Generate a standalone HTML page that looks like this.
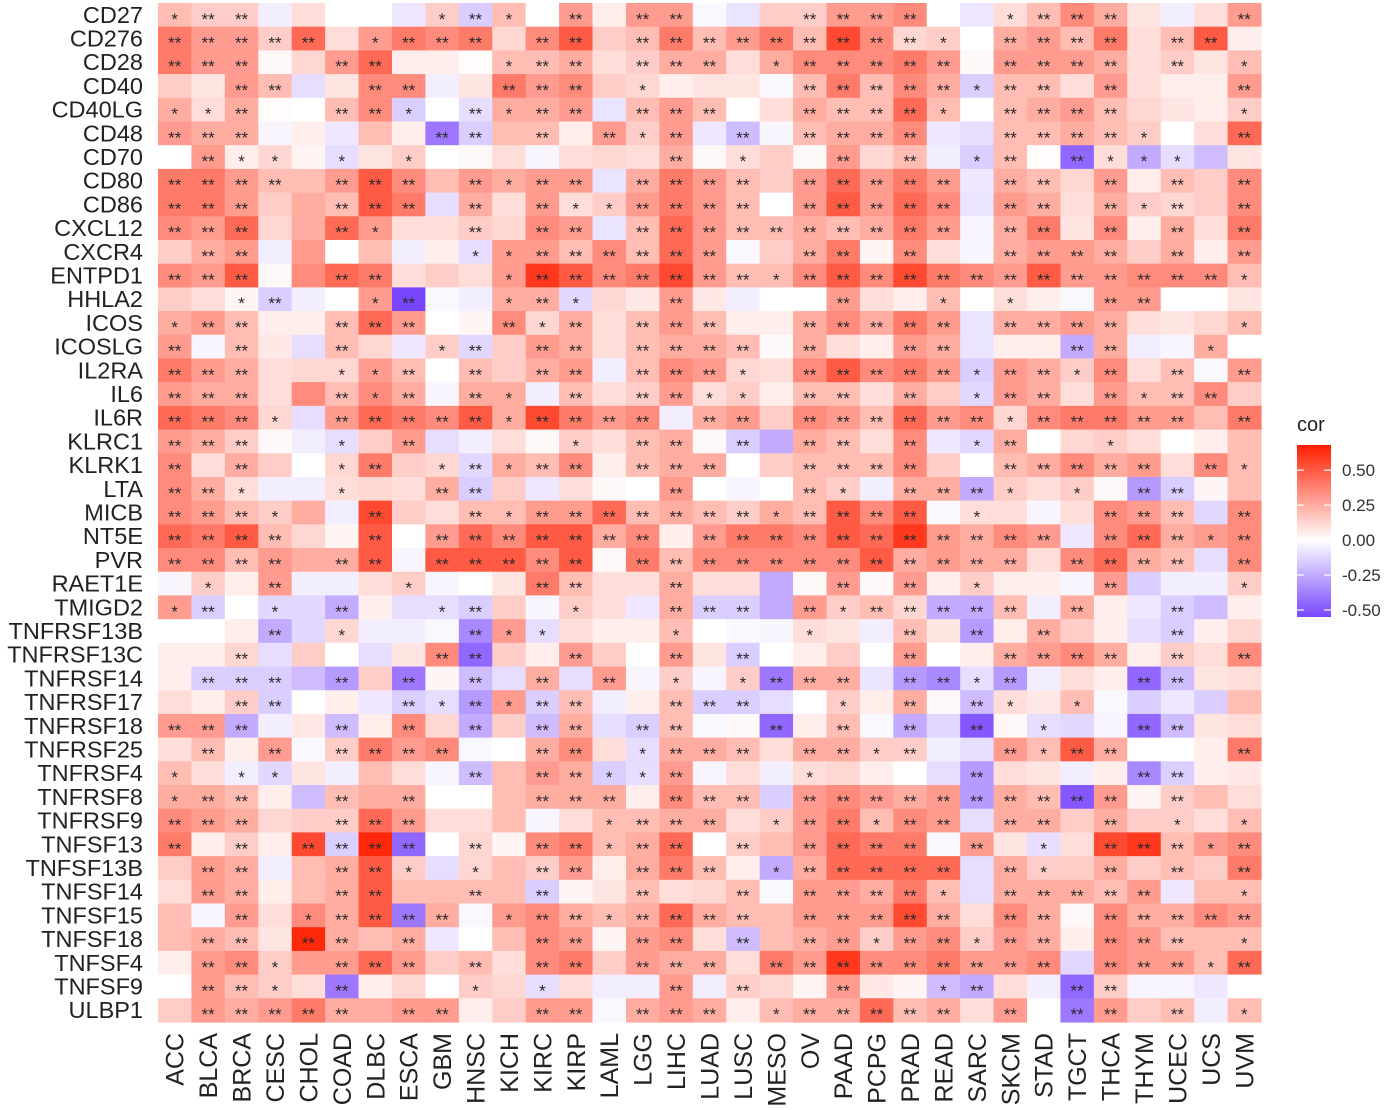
<!DOCTYPE html>
<html><head><meta charset="utf-8">
<style>
html,body{margin:0;padding:0;background:#fff;}
svg{display:block;font-family:"Liberation Sans",Arial,sans-serif;}
</style></head>
<body>
<svg id="chart" width="1393" height="1110" viewBox="0 0 1393 1110" xmlns="http://www.w3.org/2000/svg">
<g id="cells"></g>
<g id="stars"></g>
<g id="ylabels"></g>
<g id="xlabels"></g>
<g id="legend"></g>
</svg>
<script>
const genes=["CD27","CD276","CD28","CD40","CD40LG","CD48","CD70","CD80","CD86","CXCL12","CXCR4","ENTPD1","HHLA2","ICOS","ICOSLG","IL2RA","IL6","IL6R","KLRC1","KLRK1","LTA","MICB","NT5E","PVR","RAET1E","TMIGD2","TNFRSF13B","TNFRSF13C","TNFRSF14","TNFRSF17","TNFRSF18","TNFRSF25","TNFRSF4","TNFRSF8","TNFRSF9","TNFSF13","TNFSF13B","TNFSF14","TNFSF15","TNFSF18","TNFSF4","TNFSF9","ULBP1"];
const cancers=["ACC","BLCA","BRCA","CESC","CHOL","COAD","DLBC","ESCA","GBM","HNSC","KICH","KIRC","KIRP","LAML","LGG","LIHC","LUAD","LUSC","MESO","OV","PAAD","PCPG","PRAD","READ","SARC","SKCM","STAD","TGCT","THCA","THYM","UCEC","UCS","UVM"];
const legendTicks=[0.5,0.25,0,-0.25,-0.5];
const legendTickLabels=["0.50","0.25","0.00","-0.25","-0.50"];
const corValues=[
[.2,.15,.15,-.05,.1,0,0,-.07,.15,-.15,.2, 0,.3,.05,.3,.3,-.02,-.08,.15,.15,.3,.3, .35,0,-.07,.1,.2,.35,.25,.08,-.05,.1,.3],
[.4,.3,.3,.15,.45,.1,.3,.4,.35,.4,.12, .35,.5,.15,.2,.4,.2,.3,.4,.2,.55,.35, .12,.15,0,.25,.3,.2,.4,.1,.2,.5,.05],
[.4,.3,.3,.02,.12,.3,.45,.05,.05,.01,.2, .2,.25,.1,.15,.25,.25,.1,.25,.35,.35,.35, .4,.3,.02,.3,.3,.3,.25,.1,.15,.08,.2],
[.15,.08,.3,.2,-.1,.08,.35,.35,-.05,.08,.4, .3,.35,.15,.12,.05,.08,.08,-.02,.2,.4,.2, .35,.25,-.15,.2,.2,.1,.3,.1,.05,.05,.3],
[.25,.1,.25,.01,0,.2,.35,-.15,0,-.1,.25, .25,.3,-.08,.2,.3,.2,0,.1,.25,.2,.2, .45,.2,0,.2,.25,.3,.2,.12,.08,.05,.15],
[.3,.25,.25,-.03,.05,-.07,.2,.05,-.4,-.15,.2, .2,.05,.3,.15,.3,-.07,-.2,-.03,.2,.25,.25, .35,-.07,-.1,.2,.2,.25,.2,.15,0,.1,.45],
[0,.3,.05,.12,.03,-.1,.08,.15,0,.02,.1, -.03,.1,.12,.1,.25,.02,.1,.15,.02,.3,.12, .2,-.05,-.15,.2,.01,-.45,.1,-.25,-.1,-.2,.08],
[.4,.4,.3,.2,.2,.3,.5,.35,.2,.3,.25, .3,.3,-.08,.25,.4,.3,.2,.15,.3,.45,.3, .4,.3,-.07,.25,.2,.12,.3,.05,.2,.15,.35],
[.4,.4,.3,.15,.25,.2,.5,.4,-.1,.25,.1, .3,.1,.15,.3,.4,.3,.2,0,.3,.5,.3, .45,.35,-.08,.3,.25,.1,.25,.15,.12,.15,.35],
[.35,.3,.45,.12,.25,.45,.3,.1,.1,.15,.12, .35,.3,-.08,.2,.45,.3,.2,.2,.25,.2,.25, .4,.3,-.03,.25,.4,.08,.35,.05,.25,.1,.4],
[.15,.25,.3,-.05,.3,0,.2,-.05,.05,-.1,.3, .3,.2,.35,.2,.45,.3,-.02,.15,.25,.4,.03, .35,.1,-.03,.25,.3,.3,.25,.15,.25,.05,.3],
[.35,.3,.5,.02,.35,.45,.4,.1,.15,.1,.3, .6,.5,.35,.4,.55,.3,.2,.2,.35,.5,.35, .55,.4,.35,.3,.5,.3,.3,.35,.35,.35,.2],
[.15,.1,.03,-.15,-.05,0,.3,-.55,-.02,-.05,.25, .25,-.12,.12,.07,.3,.07,-.05,0,0,.3,.1, .05,.2,0,.1,.05,-.02,.3,.3,0,0,.08],
[.25,.3,.2,.05,.05,.2,.45,.3,0,.03,.35, .12,.25,.1,.2,.3,.2,.05,.05,.25,.35,.25, .4,.3,-.08,.25,.25,.3,.25,.1,.08,.12,.2],
[.3,-.03,.2,.07,-.1,.2,.12,-.07,.15,-.12,.15, .3,.25,.1,.2,.25,.25,.2,.02,.25,.1,.05, .3,.25,-.08,.05,.05,-.25,.25,-.05,-.03,.25,0],
[.4,.3,.25,.1,.12,.12,.3,.2,0,.2,.15, .25,.3,-.05,.2,.35,.3,.12,.1,.35,.5,.35, .4,.3,-.15,.3,.25,.15,.35,.1,.2,-.02,.3],
[.3,.25,.25,.1,.35,.2,.35,.25,-.03,.25,.25, -.05,.2,.1,.15,.3,.1,.15,.05,.2,.2,.1, .25,.15,-.12,.3,.25,.1,.3,.2,.2,.35,.15],
[.45,.4,.35,.12,-.1,.3,.45,.4,.35,.5,.25, .55,.4,.3,.35,-.05,.25,.3,.15,.35,.3,.2, .45,.3,.35,.12,.35,.4,.4,.3,.3,.2,.4],
[.3,.25,.15,.02,-.05,-.1,.15,.3,-.1,-.05,.1, .02,.15,.1,.2,.25,.02,-.15,-.25,.25,.2,.1, .35,-.07,-.12,.25,0,.12,.15,.1,0,.05,.2],
[.35,.1,.25,.15,0,.12,.4,.15,.12,-.12,.25, .2,.35,.05,.2,.25,.25,0,.15,.2,.2,.2, .35,.15,0,.2,.25,.35,.25,.3,.1,.35,.2],
[.35,.25,.1,-.05,-.05,.1,.12,.1,.25,-.15,.15, -.07,.1,.02,0,.3,0,-.03,0,.2,.15,-.05, .25,.25,-.25,.15,.1,.15,.02,-.3,-.15,.03,.2],
[.35,.3,.2,.15,.25,-.05,.55,.15,.1,.2,.2, .3,.3,.45,.2,.25,.2,.15,.25,.2,.5,.35, .5,-.02,.1,.1,-.03,.1,.35,.3,.2,-.12,.35],
[.45,.4,.5,.2,.12,.03,.5,0,.3,.45,.35, .5,.5,.25,.35,.05,.3,.4,.4,.35,.5,.45, .6,.3,.25,.35,.3,-.07,.35,.45,.25,.3,.35],
[.35,.35,.2,.3,.25,.25,.5,-.03,.5,.5,.5, .35,.5,.02,.4,.2,.35,.35,.35,.35,.35,.5, .25,.3,.25,.25,.1,.35,.45,.25,.2,-.1,.35],
[-.03,.15,.05,.3,-.05,-.05,.1,.15,-.03,0,.08, .4,.2,.1,.1,.25,.1,.1,-.25,.02,.3,.02, .3,.05,.15,.05,.05,-.03,.3,-.15,-.05,-.05,.15],
[.3,-.15,0,-.12,-.12,-.25,.05,-.1,-.1,-.15,.15, -.03,.15,.1,-.07,.25,-.15,-.15,-.25,.3,.15,.2, .12,-.25,-.25,.2,-.05,.25,.05,-.07,-.15,-.2,.05],
[0,0,.05,-.25,-.12,.12,-.05,-.05,-.02,-.35,.3, -.1,.1,.05,.05,.2,0,-.02,-.03,.1,.08,-.05, .2,.08,-.3,.05,.25,.15,.05,-.1,-.15,.05,.12],
[.05,.05,.12,-.1,.15,0,-.1,.08,.35,-.45,.15, .05,.3,.15,0,.3,.08,-.15,0,.05,.15,0, .3,0,.05,.25,.3,.35,.25,.05,.15,.1,.35],
[.05,-.15,-.15,-.15,-.2,-.3,.15,-.4,.03,-.2,-.1, .25,-.1,.3,-.03,.15,-.03,.15,-.4,.25,.25,-.08, -.3,-.35,-.1,-.3,-.05,.1,.05,-.45,-.2,.08,.1],
[.1,.05,.15,-.15,0,.05,-.07,-.15,-.1,-.3,.3, -.15,.2,-.05,.05,.2,-.15,-.15,-.1,0,.15,.05, .25,.02,-.2,.1,.07,.2,-.02,-.15,-.07,-.15,.2],
[.3,.3,-.25,-.05,.07,-.2,.05,.35,.12,-.25,.15, -.2,.25,-.1,-.15,.2,-.02,.02,-.45,.05,.2,-.02, -.25,-.12,-.5,.02,-.1,-.12,-.03,-.45,-.2,.08,.1],
[.1,.2,.05,.3,-.02,.15,.4,.3,.35,-.02,0, .25,.35,.1,-.1,.25,.25,.2,.1,.25,.25,.15, .15,-.05,-.1,.3,.2,.5,.25,0,0,.05,.4],
[.2,.1,-.05,-.12,.08,-.05,.2,.1,-.03,-.2,.2, .3,.25,-.15,-.1,.3,-.03,.1,-.05,.1,.12,.05, 0,-.1,-.3,.1,.08,-.05,.05,-.35,-.15,.05,.07],
[.25,.25,.2,.05,-.2,.2,.25,.25,0,0,.2, .25,.25,.25,.05,.35,.2,.2,-.15,.3,.35,.3, .25,.3,-.3,.25,.2,-.5,.3,.03,.15,.2,.1],
[.35,.3,.25,.12,.15,.15,.45,.3,.1,.1,.2, -.03,.1,.2,.2,.25,.25,.1,.15,.3,.4,.2, .35,.3,-.1,.25,.25,.15,.25,.15,.15,.1,.2],
[.4,.05,.15,.05,.55,-.15,.65,-.45,0,.12,.03, .35,.4,.2,.25,.45,0,.15,.2,.3,.45,.4, .4,-.02,.3,.08,-.1,.1,.55,.6,.2,.3,.35],
[.15,.3,.25,-.05,.2,.25,.5,.15,-.1,.12,.2, .15,.3,.05,.25,.4,.2,.05,-.25,.25,.45,.45, .45,.45,-.1,.25,.15,.15,.25,.15,.2,.15,.4],
[.1,.3,.25,.05,.2,.25,.5,.2,.2,.2,.2, -.15,.03,.08,.2,.1,.12,.2,-.02,.3,.3,.25, .4,.2,-.1,.25,.25,.25,.2,.3,-.07,.2,.2],
[.2,-.03,.3,.1,.35,.25,.5,-.4,.25,-.02,.3, .35,.25,.2,.25,.45,.25,.2,.2,.3,.3,.3, .55,.25,.1,.35,.25,.02,.35,.25,.25,.35,.3],
[.2,.25,.2,.08,.65,.25,.2,.25,-.07,0,.2, .35,.3,.03,.3,.35,.1,-.2,.2,.25,.3,.15, .3,.35,.15,.3,.25,.05,.35,.3,.2,.2,.2],
[.05,.3,.35,.15,.3,.3,.45,.3,.15,.2,.1, .35,.4,.15,.3,.25,.25,.1,.4,.3,.6,.35, .35,.4,.3,.3,.35,-.12,.35,.3,.3,.2,.45],
[0,.3,.2,.15,.1,-.4,.05,.12,0,.15,.12, -.1,.1,-.05,-.05,.3,-.05,.15,.12,.03,.3,.07, .03,-.2,-.25,.1,-.05,-.45,.15,-.03,-.03,-.07,0],
[.15,.3,.25,.3,.4,.25,.25,.3,.3,.05,.15, .3,.3,-.02,.25,.3,.25,.05,.2,.25,.25,.45, .2,.25,.1,.3,0,-.4,.3,.15,.2,-.05,.2]
];
const sigMarks=[
"12200000121"+"02022000222"+"20012220002",
"22222012220"+"22022222222"+"21022220220",
"22200220001"+"22022201222"+"22022220201",
"00220022002"+"22010000222"+"22122020002",
"11200221021"+"22022200222"+"21022220001",
"22200000220"+"20212020222"+"20022221002",
"02110101000"+"00002010020"+"20120211100",
"22220222021"+"22022220222"+"22022020202",
"22200222020"+"21122220222"+"22022021202",
"22200210020"+"22022222222"+"22022020202",
"02200000011"+"22222200220"+"20022220202",
"22200220001"+"22222221222"+"22222222221",
"00120012001"+"21002000020"+"01010022000",
"12200222002"+"12022200222"+"22022220001",
"20200200120"+"22022220200"+"22000220010",
"22200112020"+"22022210222"+"22122120202",
"22200212021"+"02022110220"+"20122021220",
"22210222221"+"22220220222"+"22212222202",
"22200102000"+"01022020220"+"20120010000",
"20200120121"+"22022200222"+"20022222021",
"22100100220"+"00002000210"+"22210102200",
"22210020021"+"22222221222"+"20100022202",
"22220020222"+"22220222222"+"22222022212",
"22220220222"+"22022222222"+"22220222202",
"01020001000"+"22002000020"+"20100020001",
"12010200120"+"01002220212"+"22220200200",
"00020100021"+"10001000100"+"20202000200",
"00200000220"+"02002020000"+"20022220202",
"02220202020"+"20201012220"+"22120002200",
"00220002121"+"22002220010"+"20210100000",
"22200202020"+"22022002020"+"20201002200",
"02020222200"+"22012220221"+"20021220002",
"10110000020"+"22112000100"+"00200002200",
"12200202000"+"22202220222"+"22222220200",
"22200222000"+"00122201221"+"22022020101",
"20202222020"+"22122020222"+"20201022212",
"02200221010"+"22022201222"+"22021020202",
"02200220020"+"20020020222"+"21022222001",
"00201222201"+"22122220222"+"22022022222",
"02202202000"+"22022020221"+"22122022201",
"02210222020"+"22022202222"+"22222022212",
"02210200010"+"10002020020"+"01200220000",
"02222202200"+"22022201222"+"22020220201"
];

const NS="http://www.w3.org/2000/svg";
const X0=158,X1=1261,Y0=3,Y1=1022;
const cw=(X1-X0)/cancers.length, ch=(Y1-Y0)/genes.length;
function xScale(i){return X0+i*cw;}
function yScale(j){return Y0+j*ch;}
const VMAX=0.68,VMIN=-0.55;
function color(v){
  let r,g,b;
  if(v>=0){const t=Math.min(v/VMAX,1);r=255;g=255-t*(255-30);b=255-t*255;}
  else{const t=Math.min(v/VMIN,1);r=255-t*(255-120);g=255-t*(255-70);b=255;}
  return `rgb(${Math.round(r)},${Math.round(g)},${Math.round(b)})`;
}
function mk(tag,attrs,parent){const e=document.createElementNS(NS,tag);for(const k in attrs)e.setAttribute(k,attrs[k]);parent.appendChild(e);return e;}
const gC=document.getElementById('cells'),gS=document.getElementById('stars'),gY=document.getElementById('ylabels'),gX=document.getElementById('xlabels'),gL=document.getElementById('legend');
corValues.forEach((row,j)=>{
  row.forEach((v,i)=>{
    const r=mk('rect',{x:xScale(i).toFixed(2),y:yScale(j).toFixed(2),width:(cw+0.6).toFixed(2),height:(ch+0.6).toFixed(2),fill:color(v)},gC);
    
    
    const s=+sigMarks[j][i];
    if(s>0){
      const t=mk('text',{x:(xScale(i)+cw/2).toFixed(2),y:(yScale(j)+ch/2+10).toFixed(2),'text-anchor':'middle','font-size':'17',fill:'#2a2a2a'},gS);
      t.textContent=s===2?'**':'*';
      
      
    }
  });
});
genes.forEach((g,j)=>{
  const t=mk('text',{x:143,y:(yScale(j)+ch/2+8).toFixed(2),'text-anchor':'end','font-size':'23.5',fill:'#222'},gY);
  t.textContent=g;
  
  
});
cancers.forEach((c,i)=>{
  const cx=xScale(i)+cw/2+9;
  const t=mk('text',{x:0,y:0,'text-anchor':'end','font-size':'25',fill:'#222',transform:`translate(${cx.toFixed(2)},1033) rotate(-90)`},gX);
  t.textContent=c;
  
  
});
// legend
const defs=mk('defs',{},gL);
const grad=mk('linearGradient',{id:'lg',x1:0,y1:0,x2:0,y2:1},defs);
const LT=445,LB=617;
function ly(v){return LT+(VMAX-v)/(VMAX-VMIN)*(LB-LT);}
for(let k=0;k<=20;k++){const v=VMAX-(VMAX-VMIN)*k/20;mk('stop',{offset:(k/20).toFixed(3),'stop-color':color(v)},grad);}
const title=mk('text',{x:1297,y:431,'font-size':'20',fill:'#222'},gL);title.textContent='cor';


const bar=mk('rect',{x:1297,y:LT,width:34,height:LB-LT,fill:'url(#lg)'},gL);


legendTicks.forEach((v,k)=>{
  const y=ly(v);
  mk('line',{x1:1297,x2:1304,y1:y,y2:y,stroke:'#fff','stroke-width':1.2},gL);
  mk('line',{x1:1324,x2:1331,y1:y,y2:y,stroke:'#fff','stroke-width':1.2},gL);
  const t=mk('text',{x:1342,y:(y+6).toFixed(2),'font-size':'17',fill:'#333'},gL);
  t.textContent=legendTickLabels[k];
  
  
});
</script>
</body></html>
